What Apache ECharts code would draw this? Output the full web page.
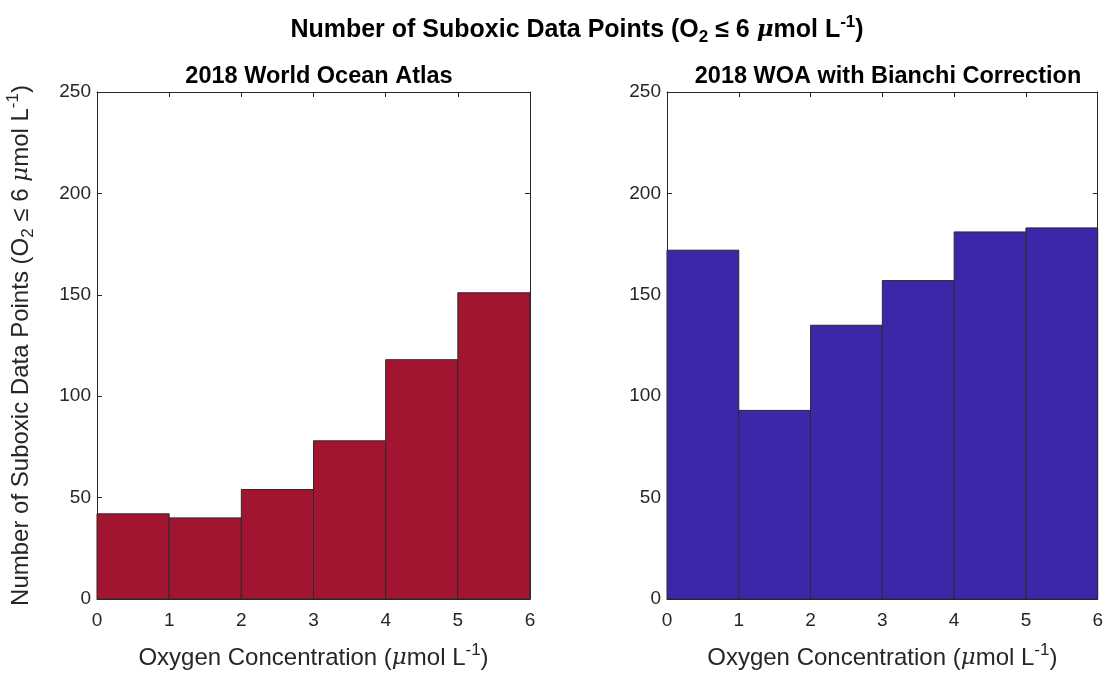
<!DOCTYPE html>
<html>
<head>
<meta charset="utf-8">
<script src="https://cdn.jsdelivr.net/npm/echarts@6/dist/echarts.min.js"></script>
<style>
  html, body { margin: 0; padding: 0; background: #fff; }
  #chart { width: 1106px; height: 675px; }
</style>
</head>
<body>
<div id="chart"></div>
<script>
// Histogram bin edges (µmol/L) and counts per bin
const binEdges = [0, 1, 2, 3, 4, 5, 6];
const woaCounts = [42, 40, 54, 78, 118, 151];
const bianchiCounts = [172, 93, 135, 157, 181, 183];
const xTicks = [0, 1, 2, 3, 4, 5, 6];
const yTicks = [0, 50, 100, 150, 200, 250];

const FONT = '"Liberation Sans", Arial, Helvetica, sans-serif';
const INK = '#262626';
const NAME_SIZE = 24;

function binData(counts) {
  return counts.map((c, i) => [binEdges[i], binEdges[i + 1], c]);
}

function histSeries(idx, counts, color) {
  return {
    type: 'custom',
    xAxisIndex: idx * 2,
    yAxisIndex: idx * 2,
    data: binData(counts),
    encode: { x: [0, 1], y: 2 },
    renderItem: function (params, api) {
      const p0 = api.coord([api.value(0), 0]);
      const p1 = api.coord([api.value(1), api.value(2)]);
      return {
        type: 'rect',
        shape: { x: p0[0], y: p1[1], width: p1[0] - p0[0], height: p0[1] - p1[1] },
        style: { fill: color, stroke: '#2b2b2b', lineWidth: 1 }
      };
    },
    z: 1
  };
}

const tickStyle = { show: true, inside: true, length: 5, lineStyle: { color: INK, width: 1 } };
const lineStyle = { show: true, onZero: false, lineStyle: { color: INK, width: 1 } };

const nameRich = {
  n: { fontFamily: FONT, fontSize: NAME_SIZE, color: INK, lineHeight: 32 },
  mu: { fontFamily: '"DejaVu Serif", serif', fontStyle: 'italic', fontSize: NAME_SIZE - 1, color: INK, lineHeight: 32 },
  sub: { fontFamily: FONT, fontSize: 17, color: INK, lineHeight: 32, verticalAlign: 'bottom' },
  sup: { fontFamily: FONT, fontSize: 17, color: INK, lineHeight: 32, verticalAlign: 'top' }
};

function xAxes(gridIndex, withName) {
  return [
    {
      type: 'value', gridIndex, min: xTicks[0], max: xTicks[xTicks.length - 1], interval: 1,
      position: 'bottom', axisLine: lineStyle, axisTick: tickStyle, splitLine: { show: false },
      axisLabel: { color: INK, fontFamily: FONT, fontSize: 19, margin: 12 },
      name: withName, nameLocation: 'middle', nameGap: 43,
      nameTextStyle: { color: INK, fontFamily: FONT, fontSize: NAME_SIZE, rich: nameRich }
    },
    {
      type: 'value', gridIndex, min: xTicks[0], max: xTicks[xTicks.length - 1], interval: 1,
      position: 'top', axisLine: lineStyle, axisTick: tickStyle, axisLabel: { show: false }, splitLine: { show: false }
    }
  ];
}

function yAxes(gridIndex, withName) {
  return [
    {
      type: 'value', gridIndex, min: yTicks[0], max: yTicks[yTicks.length - 1], interval: 50,
      position: 'left', axisLine: lineStyle, axisTick: tickStyle, splitLine: { show: false },
      axisLabel: { color: INK, fontFamily: FONT, fontSize: 19, margin: 6 },
      name: withName, nameLocation: 'middle', nameGap: 60, nameRotate: 90,
      nameTextStyle: { color: INK, fontFamily: FONT, fontSize: NAME_SIZE, rich: nameRich }
    },
    {
      type: 'value', gridIndex, min: yTicks[0], max: yTicks[yTicks.length - 1], interval: 50,
      position: 'right', axisLine: lineStyle, axisTick: tickStyle, axisLabel: { show: false }, splitLine: { show: false }
    }
  ];
}

const xName = '{n|Oxygen Concentration (}{mu|μ}{n|mol L}{sup|-1}{n|)}';
const yName = '{n|Number of Suboxic Data Points (O}{sub|2}{n| ≤ 6 }{mu|μ}{n|mol L}{sup|-1}{n|)}';

const chart = echarts.init(document.getElementById('chart'), null, { renderer: 'canvas' });
chart.setOption({
  animation: false,
  backgroundColor: '#ffffff',
  title: [
    {
      text: '{b|Number of Suboxic Data Points (O}{bs|2}{b| ≤ 6 }{bm|μ}{b|mol L}{bp|-1}{b|)}',
      left: 572, top: 9, textAlign: 'center',
      textStyle: {
        rich: {
          b: { fontFamily: FONT, fontWeight: 'bold', fontSize: 25, color: '#000', lineHeight: 32 },
          bm: { fontFamily: '"DejaVu Serif", serif', fontStyle: 'italic', fontSize: 23, color: '#000', lineHeight: 32 },
          bs: { fontFamily: FONT, fontWeight: 'bold', fontSize: 17, color: '#000', lineHeight: 32, verticalAlign: 'bottom' },
          bp: { fontFamily: FONT, fontWeight: 'bold', fontSize: 17, color: '#000', lineHeight: 32, verticalAlign: 'top' }
        }
      }
    },
    {
      text: '2018 World Ocean Atlas', left: 314, top: 60, textAlign: 'center',
      textStyle: { fontFamily: FONT, fontWeight: 'bold', fontSize: 23.5, color: '#000' }
    },
    {
      text: '2018 WOA with Bianchi Correction', left: 883, top: 60, textAlign: 'center',
      textStyle: { fontFamily: FONT, fontWeight: 'bold', fontSize: 23.5, color: '#000' }
    }
  ],
  grid: [
    { left: 97, top: 92, width: 433, height: 513 },
    { left: 667, top: 92, width: 432, height: 513 }
  ],
  xAxis: [...xAxes(0, xName), ...xAxes(1, xName)],
  yAxis: [...yAxes(0, yName), ...yAxes(1, '')],
  series: [
    histSeries(0, woaCounts, '#a21530'),
    histSeries(1, bianchiCounts, '#3d27a8')
  ]
});
</script>
</body>
</html>
